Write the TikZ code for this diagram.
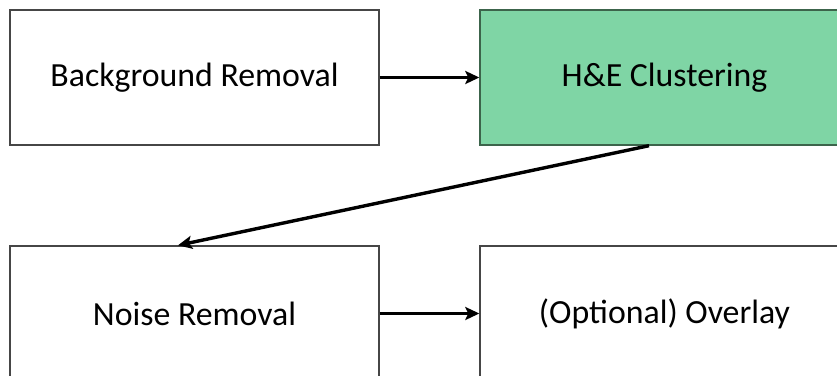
\documentclass[tikz,border=0pt]{standalone}
\usepackage{fontspec}
\setmainfont{Carlito}
\usetikzlibrary{arrows.meta}
\definecolor{boxgreen}{RGB}{127,213,165}
\definecolor{boxline}{RGB}{70,70,70}
\definecolor{greenline}{RGB}{60,100,75}
\begin{document}
\begin{tikzpicture}[x=1pt,y=-1pt,
  stagebox/.style={draw=boxline,line width=1.4pt,minimum width=369pt,minimum height=135pt,inner sep=0pt,font=\fontsize{33.8}{40}\selectfont},
  flow/.style={line width=3.4pt,-{Stealth[length=14pt,width=13pt,inset=3pt]}}]
\useasboundingbox (0,0) rectangle (837,375);
\clip (0,0) rectangle (837,375);
\fill[white] (0,0) rectangle (837,375);
\node[stagebox] (bg) at (194.5,77.5) {Background Removal};
\node[stagebox,fill=boxgreen,draw=greenline] (he) at (664.5,77.5) {H\&E Clustering};
\node[stagebox] (nr) at (194.5,313.5) {Noise Removal};
\node[stagebox] (ov) at (664.5,313.5) {(Optional) Overlay};
\draw[flow] (bg.east) -- (he.west);
\draw[flow] (nr.east) -- (ov.west);
\draw[flow] ([xshift=-15.5pt]he.south) -- ([xshift=-16.5pt]nr.north);
\end{tikzpicture}
\end{document}
